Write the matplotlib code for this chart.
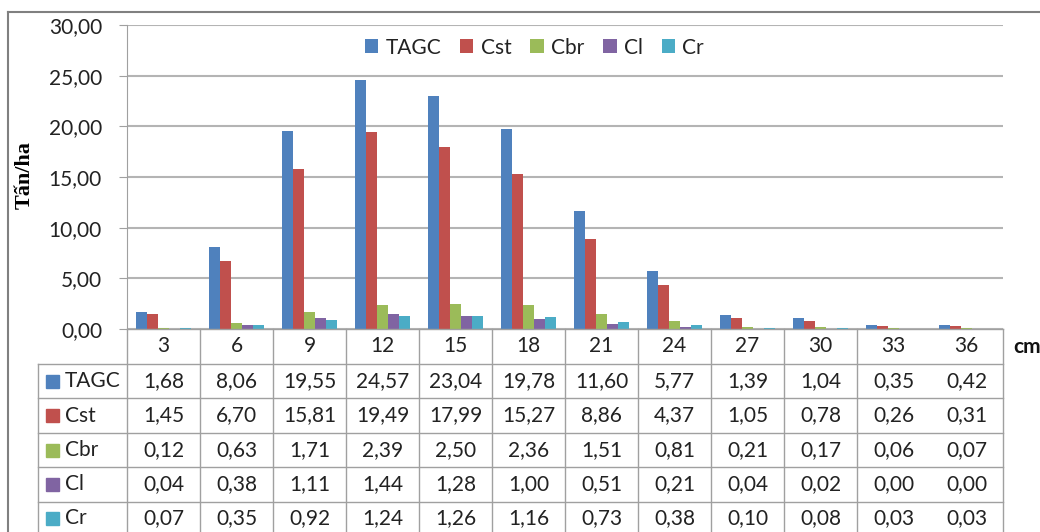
import numpy as np
import matplotlib.pyplot as plt
from matplotlib.transforms import blended_transform_factory
from matplotlib.lines import Line2D
from matplotlib.patches import Rectangle

# donnees
cats = ["3", "6", "9", "12", "15", "18", "21", "24", "27", "30", "33", "36"]
series = ["TAGC", "Cst", "Cbr", "Cl", "Cr"]
tagc = [1.68, 8.06, 19.55, 24.57, 23.04, 19.78, 11.60, 5.77, 1.39, 1.04, 0.35, 0.42]
cst = [1.45, 6.70, 15.81, 19.49, 17.99, 15.27, 8.86, 4.37, 1.05, 0.78, 0.26, 0.31]
cbr = [0.12, 0.63, 1.71, 2.39, 2.50, 2.36, 1.51, 0.81, 0.21, 0.17, 0.06, 0.07]
cl = [0.04, 0.38, 1.11, 1.44, 1.28, 1.00, 0.51, 0.21, 0.04, 0.02, 0.00, 0.00]
cr = [0.07, 0.35, 0.92, 1.24, 1.26, 1.16, 0.73, 0.38, 0.10, 0.08, 0.03, 0.03]
values = [tagc, cst, cbr, cl, cr]
colors = ["#4F81BD", "#C0504D", "#9BBB59", "#8064A2", "#4BACC6"]

W, H = 1040, 532
fig = plt.figure(figsize=(W / 100, H / 100), dpi=100)
plt.rcParams['font.family'] = ['Lato', 'DejaVu Sans']
fs = 15

def fx(px):
    return px / W

def fy(py):
    return 1 - py / H

ax = fig.add_axes([fx(127), fy(329), fx(1003) - fx(127), fy(25) - fy(329)])

x = np.arange(len(cats))
w = 0.153
for i, s in enumerate(series):
    ax.bar(x + (i - 2) * w, values[i], w, color=colors[i], label=s, zorder=3)

ax.set_xlim(-0.5, len(cats) - 0.5)
ax.set_ylim(0, 30)
ax.set_yticks(np.arange(0, 31, 5))
ax.set_yticklabels([f"{v:.2f}".replace(".", ",") for v in np.arange(0, 31, 5)],
                   fontsize=fs, color="#222222")
ax.set_xticks([])
ax.grid(axis="y", color="#B4B4B4", lw=1.5, zorder=0)
for sp in ["top", "right", "bottom"]:
    ax.spines[sp].set_visible(False)
ax.spines["left"].set_color("#A0A0A0")
ax.tick_params(axis="y", length=6, color="#A0A0A0", pad=12)

fig.text(fx(25), fy(175), "Tấn/ha", rotation=90, ha="center", va="center",
         fontsize=16, fontweight="bold", family="Liberation Serif")

leg = ax.legend(loc="upper center", bbox_to_anchor=(0.465, 1.02), ncol=5,
                frameon=False, fontsize=fs, handlelength=0.65, handleheight=0.65,
                handletextpad=0.35, columnspacing=0.9)
for t in leg.get_texts():
    t.set_color("#222222")

# tableau de donnees
tr = blended_transform_factory(ax.transData, fig.transFigure)
lc = "#A0A0A0"
rows = [329, 364, 398, 433, 467, 502, 540]
bottom = fy(540)

for k in range(len(cats) + 1):
    if k == len(cats) - 1:
        continue
    fig.add_artist(Line2D([k - 0.5, k - 0.5], [fy(329), bottom], transform=tr,
                          color=lc, lw=1))
for r in rows[1:-1]:
    fig.add_artist(Line2D([fx(38), fx(1003)], [fy(r), fy(r)], color=lc, lw=1))
fig.add_artist(Line2D([fx(38), fx(38)], [fy(364), bottom], color=lc, lw=1))
fig.add_artist(Line2D([fx(127), fx(1003)], [fy(329), fy(329)], color=lc, lw=1))

for j, c in enumerate(cats):
    fig.text(j, fy(346), c, transform=tr, ha="center", va="center",
             fontsize=fs, color="#222222")
for i, s in enumerate(series):
    yc = fy((rows[i + 1] + rows[i + 2]) / 2) if i < 4 else fy(518)
    fig.add_artist(Rectangle((fx(46), yc - 6.5 / H), 13 / W, 13 / H,
                             color=colors[i], transform=fig.transFigure))
    fig.text(fx(65), yc, s, ha="left", va="center", fontsize=fs, color="#222222")
    for j, v in enumerate(values[i]):
        fig.text(j, yc, f"{v:.2f}".replace(".", ","), transform=tr,
                 ha="center", va="center", fontsize=fs, color="#222222")

fig.text(fx(1013), fy(347), "cm", ha="left", va="center", fontsize=fs,
         fontweight="bold", color="#111111")

# cadre exterieur
fig.add_artist(Line2D([fx(8), 1], [fy(12), fy(12)], color="#808080", lw=1.5))
fig.add_artist(Line2D([fx(8), fx(8)], [fy(12), 0], color="#808080", lw=1.5))

fig.savefig("out.png", dpi=100)
